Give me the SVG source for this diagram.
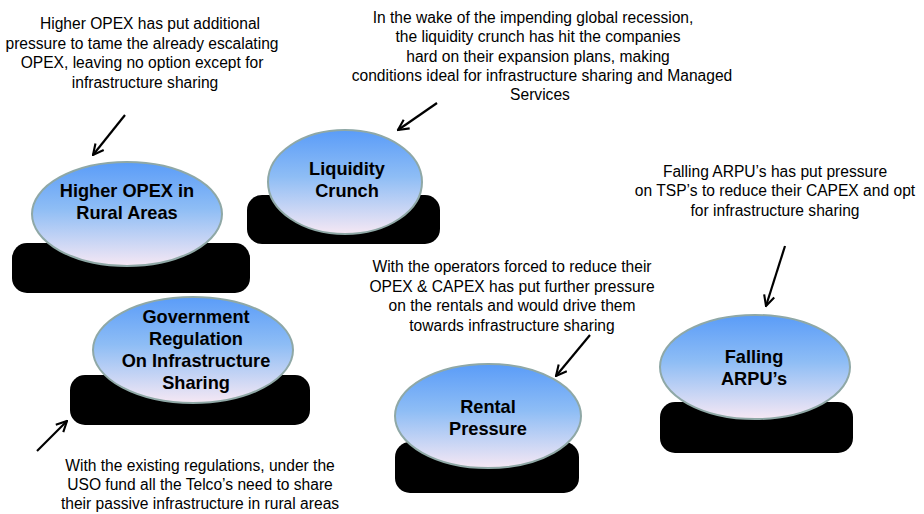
<svg xmlns="http://www.w3.org/2000/svg" width="924" height="514" viewBox="0 0 924 514">
<style>
.note{font-family:"Liberation Sans",Arial,sans-serif;font-size:15.6px;fill:#000;text-anchor:middle}
.lbl{font-family:"Liberation Sans",Arial,sans-serif;font-size:18.2px;font-weight:bold;fill:#000;text-anchor:middle}
.base{fill:#000}
.bub{fill:url(#g);stroke:#8FA8A6;stroke-width:2}
.arr{stroke:#000;stroke-width:2.2;fill:none;marker-end:url(#ah)}
</style>
<defs>
<linearGradient id="g" x1="0" y1="0" x2="0" y2="1">
<stop offset="0" stop-color="#5A9CF8"/>
<stop offset="0.45" stop-color="#8EBDF5"/>
<stop offset="1" stop-color="#F6E8F4"/>
</linearGradient>
<marker id="ah" viewBox="0 0 10 10" refX="9" refY="5" markerWidth="6" markerHeight="6" orient="auto" markerUnits="strokeWidth">
<path d="M1,1 L9,5 L1,9" fill="none" stroke="#000" stroke-width="1.6"/>
</marker>
</defs>
<rect width="924" height="514" fill="#fff"/>

<g id="connectors">
<line class="arr" x1="125" y1="115" x2="93" y2="155"/>
<line class="arr" x1="437" y1="103" x2="398" y2="130"/>
<line class="arr" x1="37" y1="451" x2="67" y2="421"/>
<line class="arr" x1="590" y1="335" x2="556" y2="376"/>
<line class="arr" x1="785" y1="246" x2="766" y2="306"/>
</g>

<g id="node-opex">
<rect class="base" x="12" y="243" width="238" height="50" rx="15"/>
<ellipse class="bub" cx="127" cy="214" rx="95" ry="52"/>
<text class="lbl" x="127" y="197">Higher OPEX in</text>
<text class="lbl" x="127" y="219">Rural Areas</text>
</g>

<g id="node-liquidity">
<rect class="base" x="247" y="195" width="193" height="49" rx="15"/>
<ellipse class="bub" cx="345" cy="182" rx="77" ry="52"/>
<text class="lbl" x="347" y="175">Liquidity</text>
<text class="lbl" x="347" y="197">Crunch</text>
</g>

<g id="node-government">
<rect class="base" x="70" y="375" width="240" height="50" rx="15"/>
<ellipse class="bub" cx="193" cy="350" rx="100" ry="53"/>
<text class="lbl" x="196" y="323">Government</text>
<text class="lbl" x="196" y="345">Regulation</text>
<text class="lbl" x="196" y="367">On Infrastructure</text>
<text class="lbl" x="196" y="389">Sharing</text>
</g>

<g id="node-rental">
<rect class="base" x="395" y="442" width="184" height="51" rx="15"/>
<ellipse class="bub" cx="488" cy="416" rx="93" ry="52"/>
<text class="lbl" x="488" y="413">Rental</text>
<text class="lbl" x="488" y="435">Pressure</text>
</g>

<g id="node-arpu">
<rect class="base" x="660" y="402" width="193" height="51" rx="15"/>
<ellipse class="bub" cx="755" cy="367" rx="95" ry="52"/>
<text class="lbl" x="754" y="363">Falling</text>
<text class="lbl" x="754" y="385">ARPU’s</text>
</g>

<g id="note-opex">
<text class="note" x="150" y="29">Higher OPEX has put additional</text>
<text class="note" x="142" y="49">pressure to tame the already escalating</text>
<text class="note" x="142" y="68">OPEX, leaving no option except for</text>
<text class="note" x="145" y="88">infrastructure sharing</text>
</g>

<g id="note-liquidity">
<text class="note" x="533" y="23">In the wake of the impending global recession,</text>
<text class="note" x="538" y="42">the liquidity crunch has hit the companies</text>
<text class="note" x="538" y="62">hard on their expansion plans, making</text>
<text class="note" x="542" y="81">conditions ideal for infrastructure sharing and Managed</text>
<text class="note" x="540" y="100">Services</text>
</g>

<g id="note-arpu">
<text class="note" x="775" y="177">Falling ARPU’s has put pressure</text>
<text class="note" x="775" y="196">on TSP’s to reduce their CAPEX and opt</text>
<text class="note" x="775" y="216">for infrastructure sharing</text>
</g>

<g id="note-rental">
<text class="note" x="512" y="272">With the operators forced to reduce their</text>
<text class="note" x="512" y="292">OPEX &amp; CAPEX has put further pressure</text>
<text class="note" x="512" y="311">on the rentals and would drive them</text>
<text class="note" x="512" y="331">towards infrastructure sharing</text>
</g>

<g id="note-government">
<text class="note" x="200" y="471">With the existing regulations, under the</text>
<text class="note" x="200" y="490">USO fund all the Telco’s need to share</text>
<text class="note" x="200" y="509">their passive infrastructure in rural areas</text>
</g>
</svg>
